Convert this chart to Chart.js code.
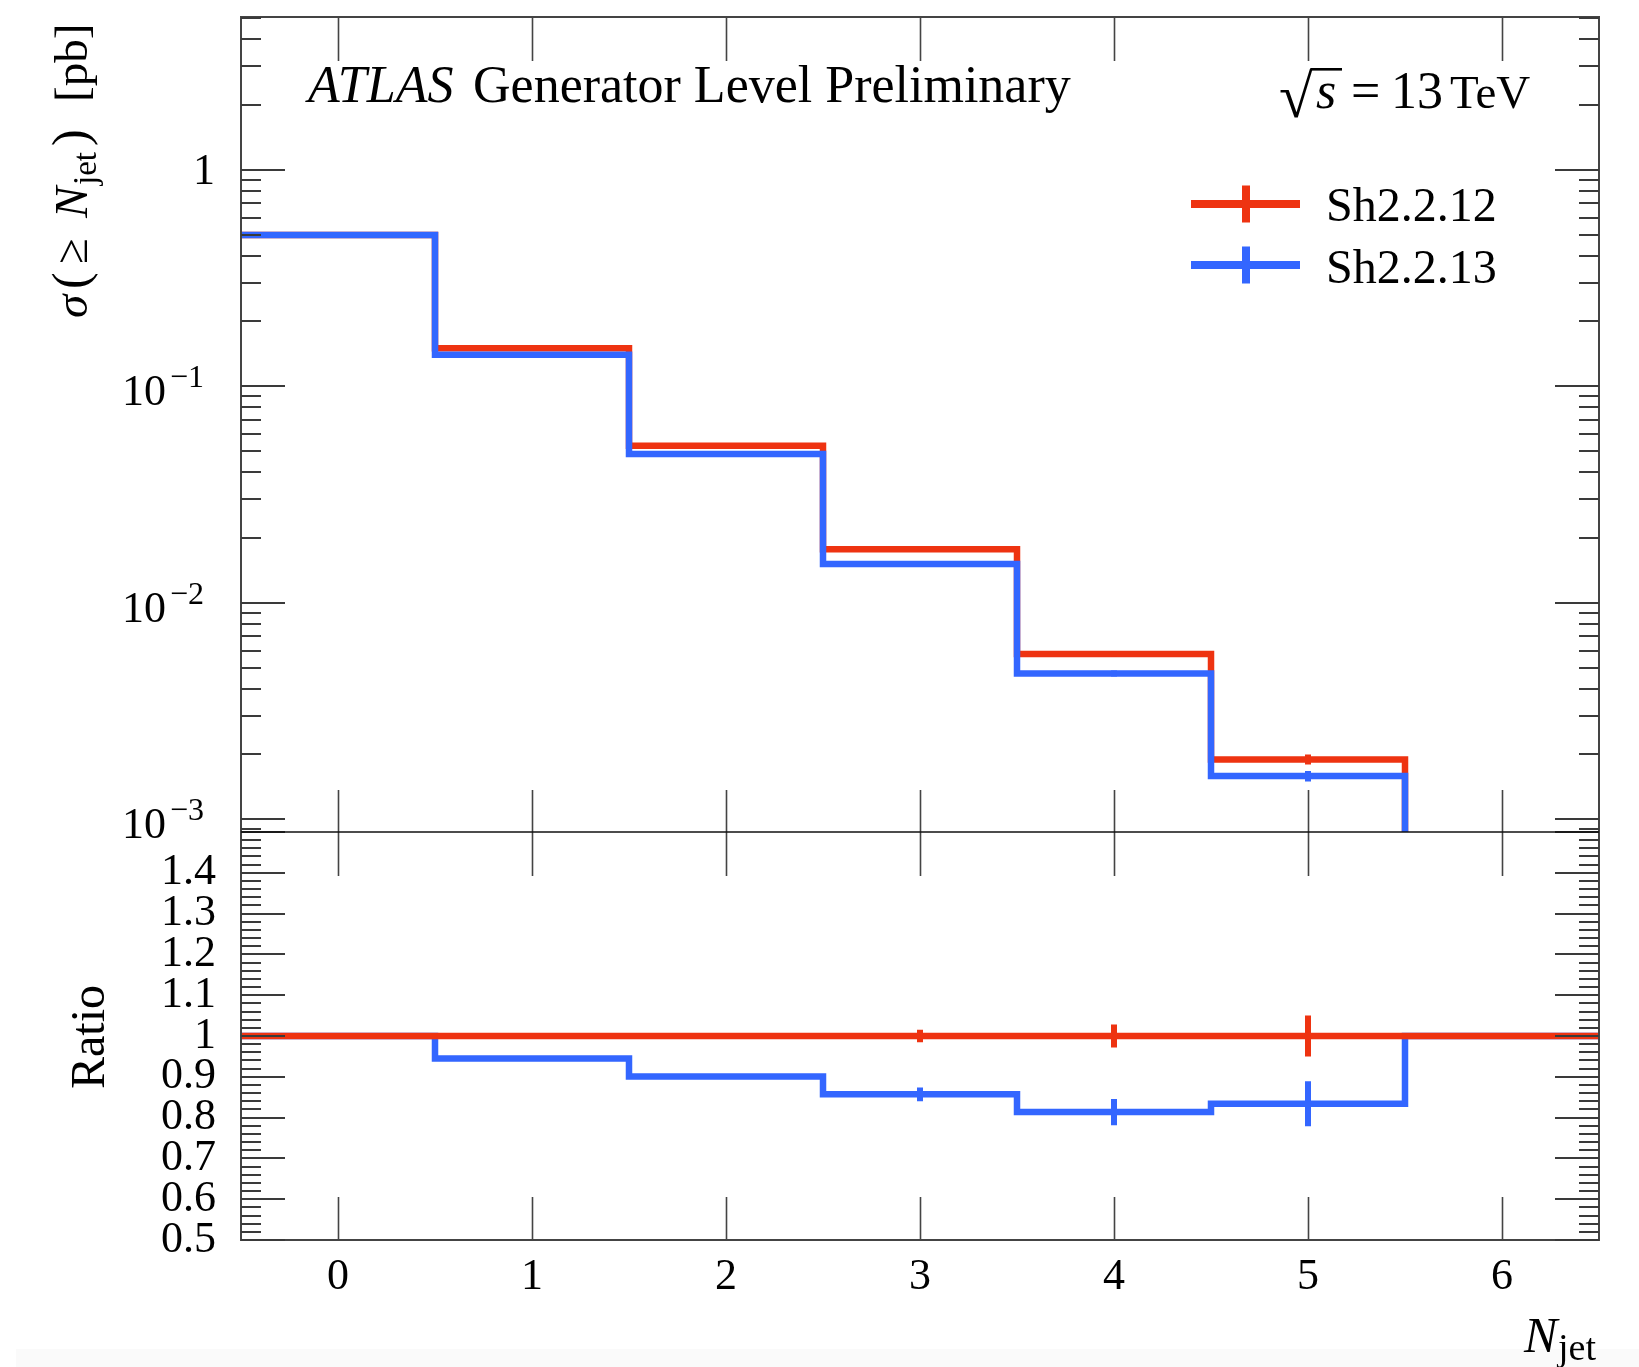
<!DOCTYPE html>
<html>
<head>
<meta charset="utf-8">
<title>Cumulative jet multiplicity</title>
<script src="https://cdn.jsdelivr.net/npm/chart.js@4.4.1/dist/chart.umd.min.js"></script>
<style>
  html, body { margin: 0; padding: 0; background: #ffffff; }
  body { width: 1639px; height: 1367px; position: relative; overflow: hidden; }
  #strip { position: absolute; left: 16px; top: 1349px; right: 0; bottom: 0; background: #fafafa; }
  #njet { position: absolute; left: 0; top: 0; }
</style>
</head>
<body>
<div id="strip"></div>
<canvas id="njet" width="1639" height="1367"></canvas>
<script>
// ---- data -------------------------------------------------------------
// Jet multiplicity bins
const binEdges   = [-0.5, 0.5, 1.5, 2.5, 3.5, 4.5, 5.5, 6.5];
const binCentres = [0, 1, 2, 3, 4, 5, 6];
const xTickValues = [0, 1, 2, 3, 4, 5, 6];

// sigma(>= N_jet) [pb]
const sh2212    = [0.50, 0.150, 0.0532, 0.01767, 0.0058, 0.00189, 0];
const sh2213    = [0.50, 0.1397, 0.0487, 0.01511, 0.00472, 0.001583, 0];
const sh2212Err = [0, 0, 0, 0.00027, 0.00016, 0.000100, 0];
const sh2213Err = [0, 0, 0, 0.00025, 0.00015, 0.000087, 0];

// ratio to Sh2.2.12
const ratio2212    = [1, 1, 1, 1, 1, 1, 1];
const ratio2213    = [1, 0.945, 0.901, 0.857, 0.8135, 0.834, 1];
const ratio2212Err = [0, 0, 0, 0.0155, 0.028, 0.050, 0];
const ratio2213Err = [0, 0, 0, 0.017, 0.032, 0.055, 0];

const seriesNames = ['Sh2.2.12', 'Sh2.2.13'];
const decadeTicks = [1, 0.1, 0.01, 0.001];
const decadeExponents = [0, -1, -2, -3];

// ---- styling ----------------------------------------------------------
const RED  = '#EE3311';
const BLUE = '#3366FF';
const SERIF = '"Liberation Serif", "Times New Roman", serif';
const Y_MIN = Math.pow(10, -3.0587);
const Y_MAX = Math.pow(10, 0.7057);
const LINE_W = 6.5;

// Histogram outline: one point per lower bin edge, plus the closing edge.
// Empty bins on the log axis are pinned to the axis floor.
function stepPoints(values, floor) {
  const pts = values.map((v, i) => ({ x: binEdges[i], y: v > 0 ? v : floor }));
  const last = values[values.length - 1];
  if (last > 0) pts.push({ x: binEdges[binEdges.length - 1], y: last });
  return pts;
}

// Clip each histogram to its own panel
const panelClip = {
  id: 'panelClip',
  beforeDatasetDraw(chart, args) {
    const { ctx, chartArea } = chart;
    const ys = chart.scales[args.meta.yAxisID];
    ctx.save();
    ctx.beginPath();
    ctx.rect(chartArea.left, ys.top, chartArea.right - chartArea.left, ys.bottom - ys.top);
    ctx.clip();
  },
  afterDatasetDraw(chart) { chart.ctx.restore(); }
};

function drawErrors(ctx, xs, ys, values, errs, color) {
  ctx.strokeStyle = color;
  ctx.beginPath();
  values.forEach((v, i) => {
    const e = errs[i];
    if (!(e > 0) || !(v > 0)) return;
    const x = xs.getPixelForValue(binCentres[i]);
    ctx.moveTo(x, ys.getPixelForValue(v - e));
    ctx.lineTo(x, ys.getPixelForValue(v + e));
  });
  ctx.stroke();
}

// Text made of pieces placed at offsets along the baseline
function drawPieces(ctx, pieces, x0, y0) {
  for (const p of pieces) {
    ctx.font = p.font;
    ctx.fillText(p.t, x0 + p.at, y0 + (p.dy || 0));
  }
}

const decorations = {
  id: 'decorations',
  afterDatasetsDraw(chart) {
    const { ctx, chartArea: ca, scales } = chart;
    const xs = scales.x, yu = scales.y, yr = scales.yr;

    // error bars
    ctx.save();
    ctx.lineCap = 'butt';
    ctx.lineWidth = 6;
    drawErrors(ctx, xs, yu, sh2212, sh2212Err, RED);
    drawErrors(ctx, xs, yu, sh2213, sh2213Err, BLUE);
    drawErrors(ctx, xs, yr, ratio2213, ratio2213Err, BLUE);
    drawErrors(ctx, xs, yr, ratio2212, ratio2212Err, RED);
    ctx.restore();

    // frame
    ctx.save();
    ctx.strokeStyle = '#444';
    ctx.lineWidth = 2;
    ctx.strokeRect(ca.left, ca.top, ca.right - ca.left, ca.bottom - ca.top);

    // y ticks, both sides, pointing inwards
    const yTick = (scale, v, len) => {
      const y = Math.round(scale.getPixelForValue(v));
      if (y < scale.top - 0.5 || y > scale.bottom + 0.5) return;
      ctx.moveTo(ca.left, y);  ctx.lineTo(ca.left + len, y);
      ctx.moveTo(ca.right, y); ctx.lineTo(ca.right - len, y);
    };
    ctx.strokeStyle = '#3a3a3a';
    ctx.lineWidth = 2;
    ctx.beginPath();
    for (let e = -4; e <= 1; e++) {
      const dec = Math.pow(10, e);
      if (dec >= Y_MIN && dec <= Y_MAX) yTick(yu, dec, 44);
      for (let k = 2; k <= 9; k++) {
        const v = k * dec;
        if (v > Y_MIN && v < Y_MAX) yTick(yu, v, 20);
      }
    }
    for (let i = 0; i <= 50; i++) {
      const v = Math.round((0.5 + i * 0.02) * 100) / 100;
      yTick(yr, v, i % 5 === 0 ? 44 : 20);
    }
    ctx.stroke();

    // x ticks in both panels
    ctx.strokeStyle = '#444';
    ctx.lineWidth = 1.6;
    ctx.beginPath();
    for (const v of xTickValues) {
      const x = Math.round(xs.getPixelForValue(v)) + 0.5;
      ctx.moveTo(x, yu.top);         ctx.lineTo(x, yu.top + 44);
      ctx.moveTo(x, yu.bottom - 42); ctx.lineTo(x, yu.bottom + 44);
      ctx.moveTo(x, yr.bottom - 43); ctx.lineTo(x, yr.bottom);
    }
    ctx.stroke();

    // panel separator
    ctx.strokeStyle = '#111';
    ctx.lineWidth = 1.6;
    ctx.beginPath();
    ctx.moveTo(ca.left, Math.round(yu.bottom));
    ctx.lineTo(ca.right, Math.round(yu.bottom));
    ctx.stroke();
    ctx.restore();

    // ---- texts ----
    ctx.save();
    ctx.fillStyle = '#000';
    ctx.textBaseline = 'alphabetic';
    ctx.textAlign = 'left';

    // decade labels on the cross-section axis
    decadeTicks.forEach((v, i) => {
      const y = yu.getPixelForValue(v);
      const ex = decadeExponents[i];
      if (ex === 0) {
        ctx.font = `44px ${SERIF}`;
        ctx.textAlign = 'right';
        ctx.fillText('1', 215, y + 14);
        ctx.textAlign = 'left';
      } else {
        ctx.font = `44px ${SERIF}`;
        ctx.fillText('10', 122, y + 19);
        ctx.font = `32px ${SERIF}`;
        ctx.fillText('\u2212' + String(-ex), 170, y + 1);
      }
    });

    // header
    drawPieces(ctx, [
      { t: 'ATLAS', font: `italic 52px ${SERIF}`, at: 0 },
      { t: 'Generator Level Preliminary', font: `52px ${SERIF}`, at: 165 }
    ], 308, 102);

    // sqrt(s) = 13 TeV
    ctx.font = `100px ${SERIF}`;
    let m = ctx.measureText('\u221A');
    const rootSize = 100 * 50 / (m.actualBoundingBoxAscent + m.actualBoundingBoxDescent);
    ctx.font = `${rootSize}px ${SERIF}`;
    m = ctx.measureText('\u221A');
    const rootX = 1280 + m.actualBoundingBoxLeft;
    const rootBase = 118 - m.actualBoundingBoxDescent;
    ctx.fillText('\u221A', rootX, rootBase);
    const barY = rootBase - m.actualBoundingBoxAscent;
    ctx.fillRect(rootX + m.actualBoundingBoxRight - 2, barY, 1342 - (rootX + m.actualBoundingBoxRight - 2), 2.6);
    drawPieces(ctx, [
      { t: 's', font: `italic 52px ${SERIF}`, at: 0 },
      { t: '=', font: `52px ${SERIF}`, at: 35 },
      { t: '13', font: `52px ${SERIF}`, at: 75 },
      { t: 'TeV', font: `47px ${SERIF}`, at: 134 }
    ], 1316, 108);

    // legend
    const legendRows = [
      { name: seriesNames[0], color: RED,  y: 204, base: 221 },
      { name: seriesNames[1], color: BLUE, y: 265, base: 283 }
    ];
    ctx.lineWidth = 8;
    for (const r of legendRows) {
      ctx.strokeStyle = r.color;
      ctx.beginPath();
      ctx.moveTo(1191, r.y); ctx.lineTo(1300, r.y);
      ctx.moveTo(1246, r.y - 18.5); ctx.lineTo(1246, r.y + 18.5);
      ctx.stroke();
      ctx.font = `48px ${SERIF}`;
      ctx.fillText(r.name, 1326, r.base);
    }

    // y title, upper panel
    ctx.save();
    ctx.translate(87, 318);
    ctx.rotate(-Math.PI / 2);
    drawPieces(ctx, [
      { t: '\u03C3', font: `italic 47px ${SERIF}`, at: 0 },
      { t: '(', font: `50px ${SERIF}`, at: 29 },
      { t: '\u2265', font: `47px ${SERIF}`, at: 54 },
      { t: 'N', font: `italic 47px ${SERIF}`, at: 100 },
      { t: 'jet', font: `33px ${SERIF}`, at: 133, dy: 9 },
      { t: ')', font: `50px ${SERIF}`, at: 172 },
      { t: '[pb]', font: `47px ${SERIF}`, at: 216 }
    ], 0, 0);
    ctx.restore();

    // y title, ratio panel
    ctx.save();
    ctx.translate(104, (yr.top + yr.bottom) / 2 + 1);
    ctx.rotate(-Math.PI / 2);
    ctx.font = `48px ${SERIF}`;
    ctx.textAlign = 'center';
    ctx.fillText('Ratio', 0, 0);
    ctx.restore();

    // x title
    drawPieces(ctx, [
      { t: 'N', font: `italic 50px ${SERIF}`, at: 0 },
      { t: 'jet', font: `38px ${SERIF}`, at: 34, dy: 8 }
    ], 1524, 1352);

    ctx.restore();
  }
};

new Chart(document.getElementById('njet'), {
  type: 'line',
  data: {
    datasets: [
      { label: seriesNames[1], data: stepPoints(sh2213, Y_MIN), yAxisID: 'y',  borderColor: BLUE, order: 1 },
      { label: seriesNames[0], data: stepPoints(sh2212, Y_MIN), yAxisID: 'y',  borderColor: RED,  order: 2 },
      { label: seriesNames[0] + ' ratio', data: stepPoints(ratio2212, 0.5), yAxisID: 'yr', borderColor: RED,  order: 3 },
      { label: seriesNames[1] + ' ratio', data: stepPoints(ratio2213, 0.5), yAxisID: 'yr', borderColor: BLUE, order: 4 }
    ].map(d => Object.assign(d, {
      // each point's value holds until the next edge
      stepped: 'before', borderWidth: LINE_W, fill: false, tension: 0,
      pointRadius: 0, pointHoverRadius: 0,
      borderCapStyle: 'butt', borderJoinStyle: 'miter'
    }))
  },
  options: {
    responsive: false,
    animation: false,
    devicePixelRatio: 1,
    events: [],
    layout: { padding: { top: 17, right: 40, left: 0, bottom: 0 } },
    plugins: { legend: { display: false }, tooltip: { enabled: false } },
    scales: {
      x: {
        type: 'linear', position: 'bottom', min: -0.5, max: 6.5,
        grid: { display: false, drawTicks: false },
        border: { display: false },
        afterBuildTicks: s => { s.ticks = xTickValues.map(v => ({ value: v })); },
        ticks: {
          autoSkip: false, maxRotation: 0,
          padding: 11, color: '#000',
          font: { family: SERIF, size: 44, lineHeight: 1.2 },
          callback: v => String(v)
        },
        afterFit: s => { s.height = 127; s.paddingLeft = 0; s.paddingRight = 0; }
      },
      y: {
        type: 'logarithmic', position: 'left', min: Y_MIN, max: Y_MAX,
        stack: 'njet', stackWeight: 815, weight: 2,
        grid: { display: false, drawTicks: false },
        border: { display: false },
        ticks: { display: false },
        afterFit: s => { s.width = 241; s.paddingTop = 0; s.paddingBottom = 0; }
      },
      yr: {
        type: 'linear', position: 'left', min: 0.5, max: 1.5,
        stack: 'njet', stackWeight: 408, weight: 1,
        grid: { display: false, drawTicks: false },
        border: { display: false },
        ticks: {
          stepSize: 0.1, autoSkip: false, padding: 25, color: '#000',
          font: { family: SERIF, size: 44, lineHeight: 1.2 },
          callback: v => {
            const r = Math.round(v * 10) / 10;
            if (r >= 1.5) return '';
            return r === 1 ? '1' : r.toFixed(1);
          }
        },
        afterFit: s => { s.width = 241; s.paddingTop = 0; s.paddingBottom = 0; }
      }
    }
  },
  plugins: [panelClip, decorations]
});
</script>
</body>
</html>
